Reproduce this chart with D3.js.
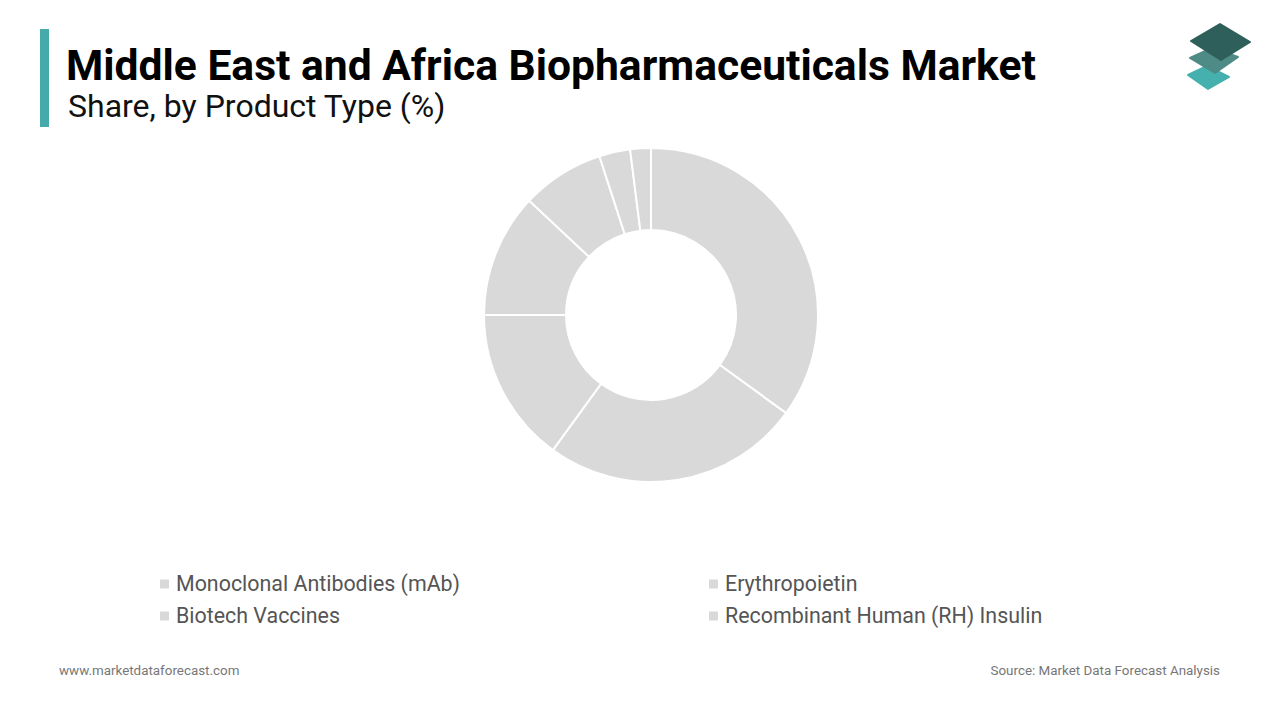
<!DOCTYPE html>
<html>
<head>
<meta charset="utf-8">
<script src="https://cdn.jsdelivr.net/npm/d3@7"></script>
<style>
  html, body { margin: 0; padding: 0; background: #fff; }
  svg { display: block; font-family: Roboto, "Noto Sans", sans-serif; }
</style>
</head>
<body>
<svg id="chart" width="1280" height="720"></svg>
<script>
// Share by product type, clockwise from 12 o'clock
const SLICE_VALUES = [35, 25, 15, 12, 8, 3, 2];
const SLICE_COLOR = "#d9d9d9";
const LEGEND_LABELS = [
  "Monoclonal Antibodies (mAb)", "Erythropoietin",
  "Biotech Vaccines", "Recombinant Human (RH) Insulin",
];

const W = 1280, H = 720;
const svg = d3.select("#chart").attr("viewBox", `0 0 ${W} ${H}`);

// ---- header ----
svg.append("rect").attr("x", 40).attr("y", 29).attr("width", 9).attr("height", 98)
  .attr("fill", "#45aaa9");
svg.append("text").attr("x", 66).attr("y", 80)
  .style("font-size", "42.6px").style("font-weight", 700).style("fill", "#000")
  .text("Middle East and Africa Biopharmaceuticals Market");
svg.append("text").attr("x", 68).attr("y", 117)
  .style("font-size", "32px").style("fill", "#111")
  .text("Share, by Product Type (%)");

// ---- logo (stacked tiles) ----
const logo = svg.append("g").attr("stroke-linejoin", "round");
const tiles = [
  { pts: [[1188, 75], [1207, 66], [1229, 77], [1208, 89]], c: "#45b0ad" },
  { pts: [[1190, 58], [1212, 48], [1238, 57], [1215, 73]], c: "#4e8a86" },
  { pts: [[1191, 41], [1220, 24], [1250, 42], [1221, 60]], c: "#2e5f5a" },
];
tiles.forEach((t) => {
  logo.append("polygon").attr("points", t.pts.map((p) => p.join(",")).join(" "))
    .attr("fill", t.c).attr("stroke", t.c).attr("stroke-width", 2);
});

// ---- donut ----
const cx = 651, cy = 315, rOuter = 167, rInner = 85;
const pie = d3.pie().sort(null).value((d) => d);
const arc = d3.arc().innerRadius(rInner).outerRadius(rOuter);
svg.append("g").attr("transform", `translate(${cx},${cy})`)
  .selectAll("path").data(pie(SLICE_VALUES)).join("path")
  .attr("d", arc)
  .attr("fill", SLICE_COLOR)
  .attr("stroke", "#fff").attr("stroke-width", 2);

// ---- legend (2 columns, row-wise) ----
const colX = [160, 709], rowY = [584, 616];
const legend = svg.append("g");
LEGEND_LABELS.forEach((lbl, i) => {
  const x = colX[i % 2], y = rowY[Math.floor(i / 2)];
  legend.append("rect").attr("x", x).attr("y", y - 4.5).attr("width", 9).attr("height", 9)
    .attr("fill", SLICE_COLOR);
  legend.append("text").attr("x", x + 16).attr("y", y).attr("dy", "0.35em")
    .style("font-size", "21.4px").style("fill", "#555").text(lbl);
});

// ---- footer ----
svg.append("text").attr("x", 59).attr("y", 675)
  .style("font-size", "13.4px").style("fill", "#777").text("www.marketdataforecast.com");
svg.append("text").attr("x", 1220).attr("y", 675).attr("text-anchor", "end")
  .style("font-size", "13.4px").style("fill", "#777").text("Source: Market Data Forecast Analysis");
</script>
</body>
</html>
